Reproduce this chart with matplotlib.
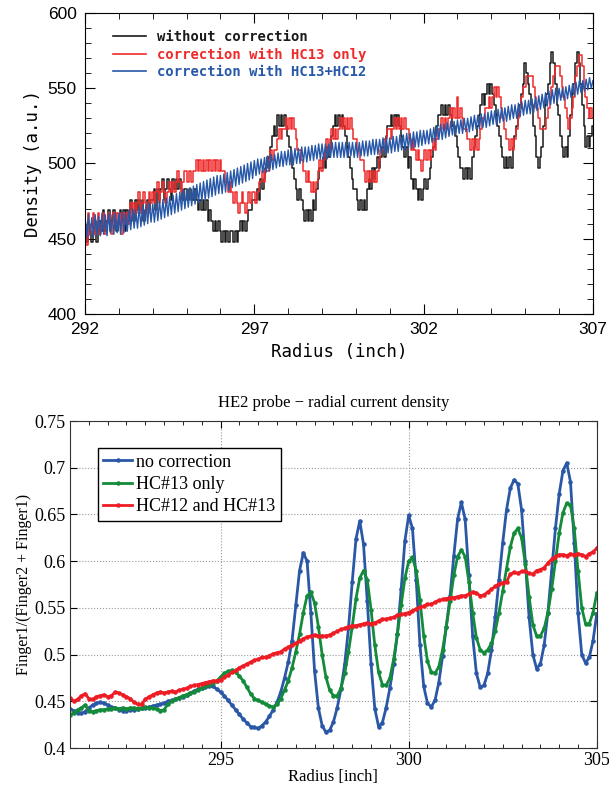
import numpy as np
import matplotlib
matplotlib.use("Agg")
import matplotlib.pyplot as plt
from matplotlib.ticker import MultipleLocator

# ---------------- top panel: density vs radius ----------------
top_x = np.round(np.arange(292, 307.001, 0.05), 2)
top_xticks = [292, 297, 302, 307]

without_corr = [
    455, 448, 462, 455, 448, 455, 462, 448, 455, 462, 455, 469, 455, 462, 469, 455, 462, 469, 462, 455,
    462, 469, 462, 469, 455, 469, 462, 476, 469, 462, 476, 469, 476, 469, 476, 462, 469, 476, 469, 476,
    476, 483, 469, 483, 476, 483, 490, 476, 483, 490, 483, 476, 490, 483, 490, 483, 490, 483, 476, 483,
    483, 476, 483, 476, 476, 483, 476, 469, 476, 469, 476, 469, 476, 462, 469, 462, 455, 462, 455, 462,
    455, 448, 455, 448, 455, 448, 455, 455, 448, 455, 448, 455, 462, 455, 462, 455, 462, 469, 469, 476,
    476, 476, 483, 476, 490, 483, 490, 497, 504, 497, 511, 518, 525, 518, 532, 525, 532, 525, 532, 525,
    518, 511, 504, 497, 490, 483, 476, 483, 476, 469, 462, 469, 462, 469, 462, 476, 469, 483, 490, 497,
    497, 504, 497, 511, 504, 511, 518, 525, 532, 525, 532, 525, 532, 525, 518, 511, 504, 497, 490, 483,
    483, 476, 469, 476, 469, 476, 469, 483, 490, 483, 497, 490, 497, 504, 497, 504, 511, 504, 518, 525,
    525, 532, 525, 532, 525, 532, 525, 518, 511, 504, 511, 497, 504, 490, 483, 490, 483, 476, 483, 476,
    483, 490, 483, 490, 497, 504, 511, 518, 525, 532, 532, 539, 532, 539, 532, 539, 532, 525, 525, 518,
    511, 504, 497, 497, 490, 497, 490, 497, 490, 504, 511, 518, 525, 532, 539, 546, 539, 546, 553, 546,
    553, 546, 539, 532, 525, 518, 511, 504, 497, 504, 497, 504, 497, 511, 518, 525, 532, 539, 546, 553,
    567, 560, 553, 546, 539, 525, 518, 504, 497, 504, 511, 525, 539, 546, 553, 567, 574, 567, 553, 539,
    532, 518, 511, 504, 511, 504, 518, 532, 546, 553, 567, 574, 567, 553, 539, 525, 511, 518, 511, 518,
    525,
]

hc13_only = [
    460, 446, 467, 453, 460, 467, 453, 460, 467, 453, 460, 467, 453, 460, 467, 460, 453, 467, 460, 467,
    460, 467, 453, 467, 460, 467, 460, 474, 467, 474, 467, 474, 481, 467, 474, 481, 474, 467, 481, 474,
    481, 474, 481, 488, 474, 481, 488, 481, 474, 481, 488, 481, 488, 481, 488, 495, 488, 481, 488, 495,
    495, 488, 495, 488, 495, 495, 502, 495, 502, 495, 502, 495, 502, 495, 502, 495, 502, 495, 502, 495,
    502, 495, 495, 488, 488, 481, 488, 481, 474, 481, 474, 467, 474, 481, 474, 467, 474, 481, 474, 481,
    481, 474, 481, 488, 488, 495, 488, 495, 495, 502, 509, 502, 509, 509, 516, 523, 516, 523, 523, 530,
    523, 530, 523, 530, 523, 516, 509, 509, 502, 495, 495, 488, 495, 488, 481, 488, 481, 488, 495, 502,
    495, 502, 509, 516, 509, 516, 523, 516, 523, 516, 523, 530, 523, 530, 523, 530, 523, 530, 523, 516,
    516, 509, 509, 502, 502, 495, 488, 495, 488, 495, 488, 495, 488, 495, 502, 509, 509, 516, 516, 523,
    523, 516, 523, 530, 523, 530, 523, 530, 523, 530, 523, 523, 516, 509, 516, 509, 502, 509, 502, 495,
    502, 509, 502, 509, 502, 509, 516, 509, 516, 523, 523, 530, 523, 530, 523, 530, 537, 530, 537, 530,
    544, 530, 537, 530, 523, 523, 516, 516, 509, 516, 509, 516, 509, 516, 523, 530, 530, 537, 537, 544,
    537, 544, 551, 544, 551, 544, 537, 530, 523, 516, 516, 509, 516, 509, 516, 523, 530, 537, 544, 551,
    551, 558, 558, 558, 558, 551, 544, 537, 530, 523, 523, 523, 523, 530, 537, 544, 551, 558, 565, 565,
    565, 558, 551, 544, 537, 530, 523, 530, 537, 544, 558, 565, 572, 572, 565, 551, 544, 537, 530, 537,
    530,
]

hc13_hc12 = [
    465, 451, 466, 452, 464, 451, 466, 453, 465, 452, 467, 453, 466, 452, 467, 454, 466, 453, 467, 454,
    467, 453, 468, 454, 467, 455, 469, 456, 470, 457, 469, 457, 471, 458, 472, 459, 473, 460, 474, 461,
    473, 461, 474, 462, 475, 463, 476, 464, 477, 465, 478, 466, 479, 467, 480, 468, 481, 469, 482, 470,
    483, 471, 484, 472, 485, 473, 486, 474, 487, 475, 488, 476, 489, 477, 490, 478, 491, 479, 492, 480,
    492, 480, 493, 481, 494, 482, 495, 484, 496, 485, 497, 486, 498, 487, 499, 488, 500, 489, 501, 490,
    502, 492, 503, 493, 503, 494, 504, 494, 505, 495, 506, 496, 506, 497, 507, 498, 508, 498, 508, 499,
    509, 499, 509, 499, 510, 500, 510, 500, 511, 501, 511, 501, 511, 502, 512, 502, 512, 503, 513, 503,
    513, 503, 513, 503, 513, 504, 514, 504, 514, 504, 514, 504, 514, 504, 514, 504, 514, 505, 514, 504,
    514, 504, 514, 505, 515, 505, 515, 505, 515, 506, 516, 506, 516, 506, 516, 507, 517, 507, 517, 507,
    517, 507, 518, 508, 518, 508, 519, 509, 519, 509, 520, 510, 520, 510, 521, 511, 521, 511, 522, 512,
    522, 513, 522, 513, 523, 514, 524, 515, 525, 516, 526, 516, 526, 517, 527, 518, 528, 519, 528, 519,
    529, 520, 529, 520, 530, 521, 530, 521, 531, 522, 532, 523, 532, 523, 533, 524, 533, 524, 534, 525,
    535, 526, 535, 526, 536, 527, 537, 528, 537, 528, 538, 529, 539, 530, 539, 530, 540, 531, 541, 532,
    542, 533, 542, 533, 543, 534, 544, 535, 545, 536, 546, 537, 547, 538, 548, 539, 549, 540, 550, 541,
    550, 542, 550, 542, 551, 543, 552, 544, 553, 545, 554, 546, 555, 547, 555, 548, 556, 549, 557, 550,
    555,
]

# ---------------- bottom panel: HE2 probe ----------------
bot_x = np.round(np.arange(291, 305.001, 0.1), 1)
bot_yticks = [0.4, 0.45, 0.5, 0.55, 0.6, 0.65, 0.7, 0.75]

no_correction = [
    0.442, 0.440, 0.438, 0.437, 0.439, 0.443, 0.446, 0.448, 0.449, 0.448,
    0.446, 0.444, 0.443, 0.441, 0.440, 0.440, 0.441, 0.441, 0.442, 0.443,
    0.443, 0.444, 0.445, 0.446, 0.447, 0.448, 0.450, 0.451, 0.452, 0.454,
    0.455, 0.457, 0.459, 0.461, 0.463, 0.464, 0.465, 0.466, 0.466, 0.463,
    0.460, 0.456, 0.451, 0.446, 0.441, 0.436, 0.431, 0.427, 0.423, 0.422,
    0.421, 0.424, 0.428, 0.434, 0.441, 0.449, 0.460, 0.475, 0.492, 0.515,
    0.553, 0.590, 0.609, 0.600, 0.545, 0.482, 0.443, 0.424, 0.417, 0.419,
    0.428, 0.443, 0.463, 0.490, 0.528, 0.578, 0.624, 0.643, 0.618, 0.557,
    0.490, 0.442, 0.423, 0.427, 0.443, 0.464, 0.490, 0.522, 0.570, 0.622,
    0.649, 0.635, 0.580, 0.510, 0.466, 0.448, 0.444, 0.451, 0.470, 0.498,
    0.530, 0.563, 0.606, 0.645, 0.663, 0.645, 0.585, 0.520, 0.480, 0.465,
    0.467, 0.480, 0.505, 0.540, 0.580, 0.620, 0.655, 0.678, 0.687, 0.683,
    0.655, 0.600, 0.540, 0.500, 0.485, 0.490, 0.510, 0.545, 0.590, 0.635,
    0.672, 0.697, 0.705, 0.685, 0.620, 0.545, 0.500, 0.491, 0.497, 0.515,
    0.544,
]

hc13 = [
    0.435, 0.438, 0.441, 0.443, 0.446, 0.440, 0.439, 0.440, 0.441, 0.441,
    0.442, 0.442, 0.443, 0.442, 0.443, 0.442, 0.443, 0.443, 0.442, 0.443,
    0.444, 0.443, 0.443, 0.442, 0.440, 0.441, 0.447, 0.450, 0.452, 0.454,
    0.456, 0.457, 0.459, 0.460, 0.462, 0.464, 0.466, 0.468, 0.470, 0.472,
    0.476, 0.480, 0.482, 0.483, 0.481, 0.477, 0.472, 0.465, 0.458, 0.453,
    0.451, 0.449, 0.447, 0.445, 0.444, 0.447, 0.453, 0.462, 0.472, 0.486,
    0.503, 0.522, 0.545, 0.563, 0.567, 0.555, 0.530, 0.500, 0.476, 0.462,
    0.456, 0.456, 0.464, 0.480, 0.503, 0.530, 0.560, 0.582, 0.590, 0.580,
    0.548, 0.510, 0.481, 0.468, 0.467, 0.475, 0.495, 0.522, 0.553, 0.582,
    0.600, 0.604, 0.590, 0.558, 0.520, 0.493, 0.481, 0.480, 0.487, 0.505,
    0.530, 0.557, 0.585, 0.605, 0.612, 0.605, 0.578, 0.545, 0.518, 0.505,
    0.502, 0.505, 0.512, 0.525, 0.545, 0.568, 0.592, 0.615, 0.630, 0.635,
    0.625, 0.597, 0.562, 0.532, 0.520, 0.520, 0.528, 0.545, 0.570, 0.600,
    0.630, 0.652, 0.662, 0.660, 0.635, 0.590, 0.550, 0.533, 0.533, 0.545,
    0.566,
]

hc12_hc13 = [
    0.454, 0.450, 0.452, 0.456, 0.458, 0.453, 0.452, 0.455, 0.456, 0.457,
    0.455, 0.456, 0.460, 0.459, 0.457, 0.455, 0.453, 0.449, 0.447, 0.447,
    0.452, 0.455, 0.457, 0.459, 0.460, 0.459, 0.460, 0.461, 0.460, 0.462,
    0.463, 0.464, 0.466, 0.467, 0.468, 0.469, 0.470, 0.471, 0.472, 0.472,
    0.473, 0.476, 0.478, 0.481, 0.483, 0.486, 0.488, 0.490, 0.492, 0.494,
    0.495, 0.497, 0.497, 0.499, 0.501, 0.502, 0.503, 0.506, 0.508, 0.510,
    0.512, 0.515, 0.517, 0.519, 0.520, 0.521, 0.520, 0.520, 0.520, 0.521,
    0.523, 0.525, 0.527, 0.528, 0.530, 0.531, 0.531, 0.532, 0.533, 0.534,
    0.533, 0.534, 0.536, 0.538, 0.538, 0.539, 0.540, 0.542, 0.543, 0.544,
    0.545, 0.547, 0.549, 0.551, 0.552, 0.554, 0.554, 0.556, 0.558, 0.559,
    0.560, 0.561, 0.561, 0.562, 0.563, 0.563, 0.565, 0.567, 0.566, 0.563,
    0.564, 0.567, 0.570, 0.573, 0.576, 0.577, 0.578, 0.586, 0.588, 0.587,
    0.589, 0.589, 0.587, 0.586, 0.590, 0.591, 0.593, 0.598, 0.602, 0.605,
    0.607, 0.607, 0.606, 0.608, 0.607, 0.608, 0.607, 0.605, 0.608, 0.610,
    0.614,
]

mono = "DejaVu Sans Mono"
serif = "Liberation Serif"

fig = plt.figure(figsize=(6.09, 7.86), dpi=100)

# top chart
ax1 = fig.add_axes([0.1396, 0.6005, 0.834, 0.383])
ax1.plot(top_x, without_corr, color="#1a1a1a", lw=1.1, drawstyle="steps-mid",
         label="without correction")
ax1.plot(top_x, hc13_only, color="#ee2a2a", lw=1.1, drawstyle="steps-mid",
         label="correction with HC13 only")
ax1.plot(top_x, hc13_hc12, color="#2657a8", lw=1.0,
         label="correction with HC13+HC12")
ax1.set_xlim(292, 307)
ax1.set_ylim(400, 600)
ax1.set_xticks(top_xticks)
ax1.xaxis.set_minor_locator(MultipleLocator(1))
ax1.yaxis.set_major_locator(MultipleLocator(50))
ax1.yaxis.set_minor_locator(MultipleLocator(10))
ax1.tick_params(which="both", direction="in", top=True, right=True, labelsize=12.5)
ax1.tick_params(which="major", length=7, pad=6)
ax1.tick_params(which="minor", length=4)
for lab in ax1.get_xticklabels() + ax1.get_yticklabels():
    lab.set_family("Liberation Sans")
ax1.set_xlabel("Radius (inch)", family=mono, fontsize=12.5, labelpad=4)
ax1.set_ylabel("Density (a.u.)", family=mono, fontsize=12.5, labelpad=4)
leg1 = ax1.legend(loc="upper left", frameon=False, bbox_to_anchor=(0.03, 0.985),
                  prop={"family": mono, "size": 10, "weight": "bold"},
                  handlelength=2.4, handletextpad=0.8, labelspacing=0.25)
for txt, line in zip(leg1.get_texts(), leg1.get_lines()):
    txt.set_color(line.get_color())
    line.set_linewidth(1.2)

# bottom chart
ax2 = fig.add_axes([0.115, 0.0483, 0.865, 0.416])
ax2.plot(bot_x, no_correction, color="#2a57a6", lw=2, marker=".", ms=4.5,
         label="no correction")
ax2.plot(bot_x, hc13, color="#138b3b", lw=2, marker=".", ms=4.5,
         label="HC#13 only")
ax2.plot(bot_x, hc12_hc13, color="#ee1c25", lw=2, marker=".", ms=4.5,
         label="HC#12 and HC#13")
ax2.set_xlim(291, 305)
ax2.set_ylim(0.4, 0.75)
ax2.xaxis.set_major_locator(MultipleLocator(5))
ax2.xaxis.set_minor_locator(MultipleLocator(0.5))
ax2.set_yticks(bot_yticks)
ax2.set_yticklabels([f"{v:g}" for v in bot_yticks])
ax2.grid(True, which="major", linestyle=":", color="#999999", lw=0.8)
ax2.tick_params(which="both", direction="in", top=True, right=True, labelsize=13)
ax2.tick_params(which="major", length=5, pad=3)
ax2.tick_params(which="minor", length=3)
for lab in ax2.get_xticklabels() + ax2.get_yticklabels():
    lab.set_family(serif)
for sp in ax2.spines.values():
    sp.set_color("#333333")
ax2.set_title("HE2 probe \u2212 radial current density", family=serif, fontsize=12, pad=10)
ax2.set_xlabel("Radius [inch]", family=serif, fontsize=12, labelpad=0)
ax2.set_ylabel("Finger1/(Finger2 + Finger1)", family=serif, fontsize=11.5, labelpad=2)
leg2 = ax2.legend(loc="upper left", bbox_to_anchor=(0.053, 0.917), borderaxespad=0,
                  prop={"family": serif, "size": 13}, fancybox=False,
                  edgecolor="black", framealpha=1, handlelength=1.6,
                  handletextpad=0.2, labelspacing=0.3, borderpad=0.3)
leg2.get_frame().set_linewidth(1)

fig.savefig("out.png", dpi=100)
